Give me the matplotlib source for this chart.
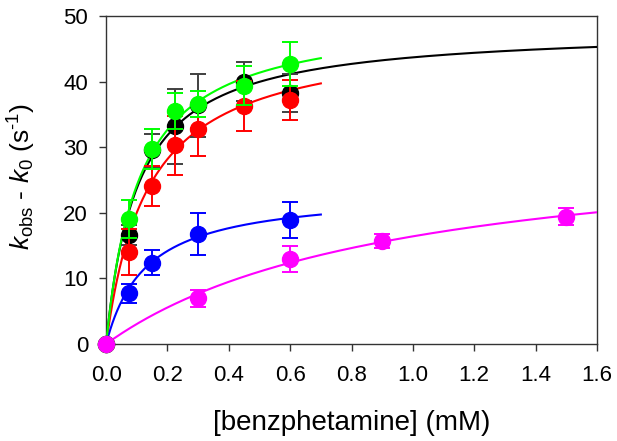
import numpy as np
import matplotlib
matplotlib.use('Agg')
import matplotlib.pyplot as plt

plt.rcParams['font.family'] = ['Liberation Sans', 'DejaVu Sans']
plt.rcParams['mathtext.fontset'] = 'custom'
plt.rcParams['mathtext.rm'] = 'Liberation Sans'
plt.rcParams['mathtext.it'] = 'Liberation Sans:italic'

# data
x_main = [0.0, 0.075, 0.15, 0.225, 0.3, 0.45, 0.6]

black_y = [0.0, 16.6, 29.5, 33.2, 36.4, 40.0, 38.2]
black_e = [0.0, 1.5, 2.5, 5.7, 4.8, 3.0, 2.9]

green_y = [0.0, 19.0, 29.7, 35.5, 36.6, 39.4, 42.7]
green_e = [0.0, 2.9, 3.0, 2.7, 2.0, 3.0, 3.4]

red_y = [0.0, 14.0, 24.1, 30.3, 32.7, 36.3, 37.2]
red_e = [0.0, 3.5, 3.0, 4.5, 4.0, 3.8, 3.0]

x_blue = [0.0, 0.075, 0.15, 0.3, 0.6]
blue_y = [0.0, 7.7, 12.4, 16.8, 18.9]
blue_e = [0.0, 1.5, 1.9, 3.2, 2.7]

x_mag = [0.0, 0.3, 0.6, 0.9, 1.5]
mag_y = [0.0, 7.0, 12.9, 15.7, 19.4]
mag_e = [0.0, 1.3, 2.0, 1.0, 1.3]

# hyperbolic fit parameters (Vmax, Km, x end) estimated from the drawn curves
fits = {
    'black': (48.2, 0.103, 1.6),
    'red': (47.5, 0.137, 0.7),
    'blue': (23.4, 0.13, 0.7),
    'magenta': (32.0, 0.95, 1.6),
    'lime': (50.3, 0.108, 0.7),
}

def hyper(x, v, k):
    return v * x / (k + x)

fig = plt.figure(figsize=(6.17, 4.41), dpi=100)
ax = fig.add_axes([0.172, 0.22, 0.7955, 0.7437])

for c, (v, k, xend) in fits.items():
    xx = np.linspace(0, xend, 300)
    ax.plot(xx, hyper(xx, v, k), color=c, lw=1.5, zorder=2)

def pts(x, y, e, c, ec, z):
    ax.errorbar(x, y, yerr=e, fmt='o', ms=11.5, color=c, mec=c, ecolor=ec,
                elinewidth=1.4, capsize=5.5, capthick=1.4, zorder=z,
                clip_on=False)

pts(x_blue, blue_y, blue_e, 'blue', 'blue', 4)
pts(x_main, black_y, black_e, 'black', '#404040', 5)
pts(x_main, red_y, red_e, 'red', 'red', 6)
pts(x_main, green_y, green_e, 'lime', 'lime', 7)
pts(x_mag, mag_y, mag_e, 'magenta', 'magenta', 8)

ax.set_xlim(0, 1.6)
ax.set_ylim(0, 50)
ax.set_xticks(np.arange(0, 1.61, 0.2))
ax.set_xticklabels(['%.1f' % t for t in np.arange(0, 1.61, 0.2)])
ax.set_yticks(np.arange(0, 51, 10))
for s in ax.spines.values():
    s.set_color('#333333')
    s.set_linewidth(1.0)
    s.set_zorder(1)
ax.tick_params(direction='out', length=5, width=1.0, color='#333333',
               labelsize=16)
ax.tick_params(axis='x', pad=10)
ax.tick_params(axis='y', pad=8)
ax.set_xlabel('[benzphetamine] (mM)', fontsize=20)
ax.set_ylabel('$k_{\\rm obs}$ - $k_{\\rm 0}$ (s$^{\\rm \u2010 1}$)', fontsize=19)
ax.xaxis.set_label_coords(0.5, -0.20)
ax.yaxis.set_label_coords(-0.138, 0.51)

fig.savefig('out.png', dpi=100)
